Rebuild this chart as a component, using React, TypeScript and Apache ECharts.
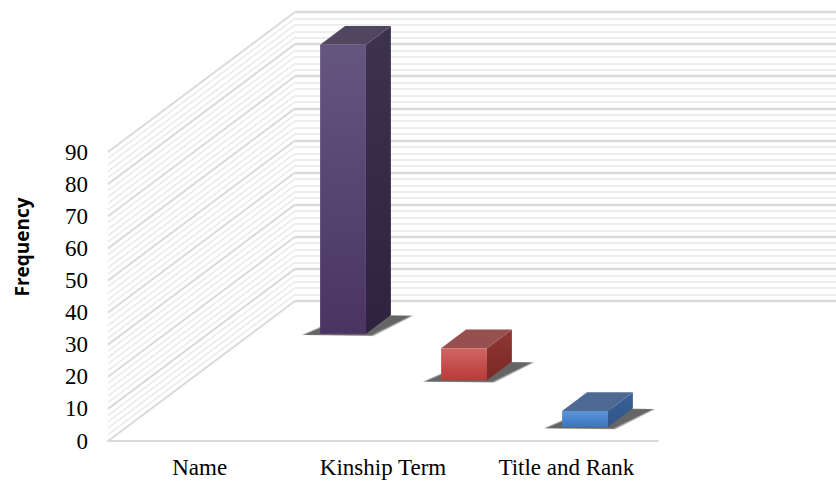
import { useEffect, useRef } from 'react';
import * as echarts from 'echarts';

const categories = ['Name', 'Kinship Term', 'Title and Rank'];
const frequencies = [90, 10, 5];
// depth row of each bar, counted from the front edge of the floor
const depthRows = [2, 1, 0];

const yMin = 0;
const yMax = 90;
const yStep = 10;
const yMinorSplit = 5;

const faceColors = [
  { front: ['#655680', '#4a3462'], top: '#51465f', side: ['#3d3250', '#2e2240'] },
  { front: ['#cf6664', '#b93a38'], top: '#96504f', side: ['#8f3735', '#7b2826'] },
  { front: ['#5d95d6', '#3b75c0'], top: '#4c6a94', side: ['#3b639b', '#2e5486'] },
];

// oblique projection of the full floor depth (pixels)
const DEPTH_DX = 187;
const DEPTH_DY = 140;
const ROWS = 3;

const SERIF = '"Liberation Serif", "Times New Roman", serif';

function wallLevels(): { v: number; major: boolean }[] {
  const out: { v: number; major: boolean }[] = [];
  const minor = yStep / yMinorSplit;
  for (let v = yMin; v <= yMax + 1e-9; v += minor) {
    const r = Math.round(v * 1000) / 1000;
    out.push({ v: r, major: Math.abs(r / yStep - Math.round(r / yStep)) < 1e-6 });
  }
  return out;
}

// soft floor shadow built from stacked translucent outlines
function softShadow(pts: number[][], layers: number, spread: number) {
  const cx = pts.reduce((s, p) => s + p[0], 0) / pts.length;
  const cy = pts.reduce((s, p) => s + p[1], 0) / pts.length;
  const out: any[] = [];
  for (let k = 0; k < layers; k++) {
    const grow = spread * (1 - k / layers);
    const scaled = pts.map((p) => {
      const dx = p[0] - cx;
      const dy = p[1] - cy;
      const len = Math.hypot(dx, dy) || 1;
      return [p[0] + (dx / len) * grow, p[1] + (dy / len) * grow * 0.45];
    });
    out.push({
      type: 'polygon',
      shape: { points: scaled },
      style: { fill: 'rgba(0,0,0,0.14)' },
    });
  }
  return out;
}

export default function App() {
  const ref = useRef<HTMLDivElement>(null);

  useEffect(() => {
    if (!ref.current) return;
    const chart = echarts.init(ref.current, undefined, { renderer: 'svg' });
    const levels = wallLevels();

    const option: any = {
      animation: false,
      backgroundColor: '#ffffff',
      grid: [
        { left: 108, top: 152, width: 550, height: 289 },
        { left: 108 + DEPTH_DX, top: 152 - DEPTH_DY, width: 550, height: 289 },
      ],
      graphic: [
        {
          type: 'text',
          x: 22,
          y: 247,
          rotation: Math.PI / 2,
          style: {
            text: 'Frequency',
            fontFamily: '"Open Sans", "Liberation Sans", sans-serif',
            fontWeight: 'bold',
            fontSize: 19,
            fill: '#000',
            align: 'center',
            verticalAlign: 'middle',
          },
        },
      ],
      xAxis: [
        {
          type: 'category',
          gridIndex: 0,
          data: categories,
          axisTick: { show: false },
          axisLine: { show: true, lineStyle: { color: '#d9d9d9', width: 2 } },
          axisLabel: { color: '#000', fontFamily: SERIF, fontSize: 23, margin: 15 },
          splitLine: { show: false },
        },
        { type: 'value', gridIndex: 1, show: false, min: 0, max: 1 },
      ],
      yAxis: [
        {
          type: 'value',
          gridIndex: 0,
          min: yMin,
          max: yMax,
          interval: yStep,
          axisLine: { show: false },
          axisTick: { show: false },
          axisLabel: { color: '#000', fontFamily: SERIF, fontSize: 23, margin: 20 },
          splitLine: { show: false },
        },
        {
          // back wall
          type: 'value',
          gridIndex: 1,
          min: yMin,
          max: yMax,
          interval: yStep,
          axisLine: { show: false },
          axisTick: { show: false },
          axisLabel: { show: false },
          minorTick: { show: false, splitNumber: yMinorSplit },
          splitLine: { show: true, lineStyle: { color: '#d9d9d9', width: 2.4 } },
          minorSplitLine: { show: true, lineStyle: { color: '#ededed', width: 2 } },
        },
      ],
      series: [
        {
          // side wall: diagonal grid lines
          type: 'custom',
          xAxisIndex: 0,
          yAxisIndex: 0,
          z: 1,
          silent: true,
          data: [[0, 0]],
          renderItem: (params: any, api: any) => {
            const left = params.coordSys.x;
            const children = levels.map((l) => {
              const y = api.coord([0, l.v])[1];
              return {
                type: 'line',
                shape: { x1: left, y1: y, x2: left + DEPTH_DX, y2: y - DEPTH_DY },
                style: {
                  stroke: l.major ? '#dadada' : '#ebebeb',
                  lineWidth: l.major ? 2 : 1.6,
                },
              };
            });
            return { type: 'group', children };
          },
        },
        {
          // 3-D columns
          type: 'custom',
          xAxisIndex: 0,
          yAxisIndex: 0,
          z: 3,
          data: frequencies.map((v, i) => [i, v, depthRows[i]]),
          renderItem: (params: any, api: any) => {
            const i = api.value(0);
            const v = api.value(1);
            const row = api.value(2);
            const c = faceColors[params.dataIndex];
            const base = api.coord([i, 0]);
            const top = api.coord([i, v]);
            const band = api.size([1, 0])[0];
            const w = band * 0.25;
            const f0 = (row + 0.3) / ROWS;
            const f1 = (row + 0.7) / ROWS;
            const x0 = base[0] - w / 2 + DEPTH_DX * f0;
            const x1 = x0 + w;
            const yb = base[1] - DEPTH_DY * f0;
            const yt = top[1] - DEPTH_DY * f0;
            const ddx = DEPTH_DX * (f1 - f0);
            const ddy = DEPTH_DY * (f1 - f0);
            const grad = (a: string, b: string) =>
              new echarts.graphic.LinearGradient(0, 0, 0, 1, [
                { offset: 0, color: a },
                { offset: 1, color: b },
              ]);
            const shadowPts = [
              [x0 - 14, yb + 1],
              [x1 + 4, yb + 1],
              [x1 + ddx + 18, yb - ddy + 1],
              [x0 + ddx + 6, yb - ddy + 1],
            ];
            return {
              type: 'group',
              children: [
                ...softShadow(shadowPts, 6, 5),
                {
                  type: 'polygon',
                  shape: {
                    points: [
                      [x1, yt],
                      [x1 + ddx, yt - ddy],
                      [x1 + ddx, yb - ddy],
                      [x1, yb],
                    ],
                  },
                  style: { fill: grad(c.side[0], c.side[1]) },
                },
                {
                  type: 'polygon',
                  shape: {
                    points: [
                      [x0, yt],
                      [x1, yt],
                      [x1 + ddx, yt - ddy],
                      [x0 + ddx, yt - ddy],
                    ],
                  },
                  style: { fill: c.top },
                },
                {
                  type: 'rect',
                  shape: { x: x0, y: yt, width: w, height: yb - yt },
                  style: { fill: grad(c.front[0], c.front[1]) },
                },
              ],
            };
          },
        },
      ],
    };

    chart.setOption(option);
    return () => chart.dispose();
  }, []);

  return (
    <div
      ref={ref}
      style={{ position: 'absolute', left: 0, top: 0, width: 836, height: 486 }}
    />
  );
}
